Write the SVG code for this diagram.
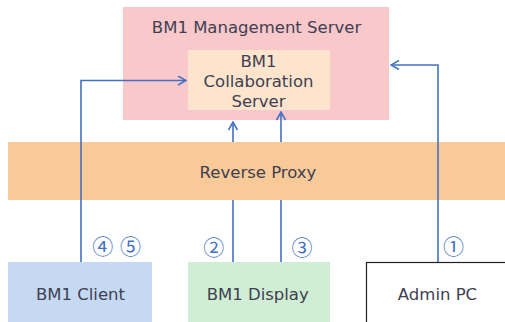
<svg xmlns="http://www.w3.org/2000/svg" width="505" height="322" viewBox="0 0 505 322">
<defs>
<style>
.t{font-family:"DejaVu Sans","Noto Sans",sans-serif;font-size:16.5px;fill:#404052;text-anchor:middle}
.n{font-family:"Noto Sans CJK JP","Noto Sans",sans-serif;font-size:21px;fill:#4472c4;text-anchor:middle}
.c{fill:none;stroke:#4472c4;stroke-width:1.6}
</style>
<marker id="ah" viewBox="0 0 10 10" refX="9" refY="5" markerWidth="10" markerHeight="10" markerUnits="userSpaceOnUse" orient="auto">
<path d="M1,0.5 L9,5 L1,9.5" fill="none" stroke="#4472c4" stroke-width="1.6"/>
</marker>
</defs>
<rect width="505" height="322" fill="#ffffff"/>
<g id="mgmt">
<rect x="123" y="7" width="266" height="113" fill="#f9c8ca"/>
<text class="t" x="256.5" y="32.5">BM1 Management Server</text>
</g>
<g id="collab">
<rect x="188" y="50" width="142" height="60" fill="#fde4cc"/>
<text class="t" x="258.5" y="67">BM1</text>
<text class="t" x="258.5" y="87">Collaboration</text>
<text class="t" x="258.5" y="107">Server</text>
</g>
<g id="proxy">
<rect x="8" y="142" width="497" height="58" fill="#f8ca97"/>
<text class="t" x="258" y="178">Reverse Proxy</text>
</g>
<g id="client">
<rect x="8" y="262" width="144" height="60" fill="#c5d9f2"/>
<text class="t" x="80.5" y="300">BM1 Client</text>
</g>
<g id="display">
<rect x="188" y="262" width="142" height="60" fill="#cfeed4"/>
<text class="t" x="257.7" y="300">BM1 Display</text>
</g>
<g id="admin">
<rect x="366.5" y="262.5" width="140" height="62" fill="#ffffff" stroke="#222" stroke-width="1.2"/>
<text class="t" x="437.5" y="300">Admin PC</text>
</g>
<g id="connectors">
<path class="c" d="M81,262 V80.5 H186" marker-end="url(#ah)"/>
<path class="c" d="M233,262 V200 M233,142 V122" marker-end="url(#ah)"/>
<path class="c" d="M281,262 V200 M281,142 V112" marker-end="url(#ah)"/>
<path class="c" d="M438,262 V65 H391" marker-end="url(#ah)"/>
<text class="n" x="102.7" y="254">④</text>
<text class="n" x="130.5" y="254">⑤</text>
<text class="n" x="213.7" y="254.5">②</text>
<text class="n" x="302" y="254.5">③</text>
<text class="n" x="453.4" y="254">①</text>
</g>
</svg>
